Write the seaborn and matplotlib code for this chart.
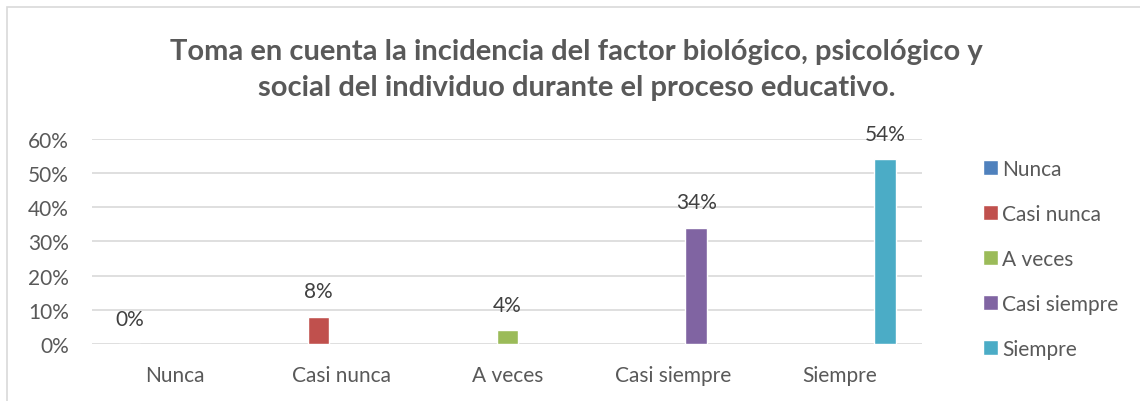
import pandas as pd
import seaborn as sns
import matplotlib.pyplot as plt
from matplotlib.patches import Rectangle

categorias = ['Nunca', 'Casi nunca', 'A veces', 'Casi siempre', 'Siempre']
porcentajes = [0.00, 0.08, 0.04, 0.34, 0.54]
colores = ['#4F81BD', '#C0504D', '#9BBB59', '#8064A2', '#4BACC6']
titulo = ('Toma en cuenta la incidencia del factor biológico, psicológico y\n'
          'social del individuo durante el proceso educativo.')

df = pd.DataFrame({'categoria': categorias, 'serie': categorias, 'pct': porcentajes})

sns.set_style('white')
plt.rcParams['font.family'] = ['Lato', 'DejaVu Sans']

fig = plt.figure(figsize=(11.4, 4.02), dpi=100)
ax = fig.add_axes([0.081, 0.142, 0.728, 0.510])

# marco gris del grafico
fig.patches.append(Rectangle((7 / 1140, -0.1), 1.2, (1 - 8 / 402) + 0.1,
                             transform=fig.transFigure, fill=False,
                             edgecolor='#D9D9D9', linewidth=1.2))

sns.barplot(data=df, x='categoria', y='pct', hue='serie', order=categorias,
            hue_order=categorias, palette=colores, dodge=True, width=0.69,
            gap=0.06, saturation=1, ax=ax, legend=True)

for cont, v in zip(ax.containers, porcentajes):
    ax.bar_label(cont, labels=[f'{v:.0%}'], padding=11, fontsize=15,
                 color='#404040')

ax.set_ylim(0, 0.6)
ax.set_xlim(-0.5, 4.5)
ax.set_yticks([0, 0.1, 0.2, 0.3, 0.4, 0.5, 0.6])
ax.set_yticklabels(['0%', '10%', '20%', '30%', '40%', '50%', '60%'])
ax.yaxis.grid(True, color='#D9D9D9', linewidth=1.2)
ax.set_axisbelow(True)
sns.despine(ax=ax, left=True, bottom=True)
ax.tick_params(axis='y', length=0, pad=17, labelsize=15, labelcolor='#595959')
ax.tick_params(axis='x', length=0, pad=15, labelsize=15, labelcolor='#595959')
ax.set_xlabel('')
ax.set_ylabel('')

ax.legend(loc='upper left', bbox_to_anchor=(1.05, 0.995), frameon=False,
          fontsize=15, labelspacing=1.2, handlelength=0.75, handleheight=0.75,
          handletextpad=0.2, labelcolor='#595959')

fig.text(0.506, 1 - 70 / 402, titulo, ha='center', va='center',
         fontsize=21, fontweight='bold', color='#595959', linespacing=1.45)

fig.savefig('out.png', dpi=100)
